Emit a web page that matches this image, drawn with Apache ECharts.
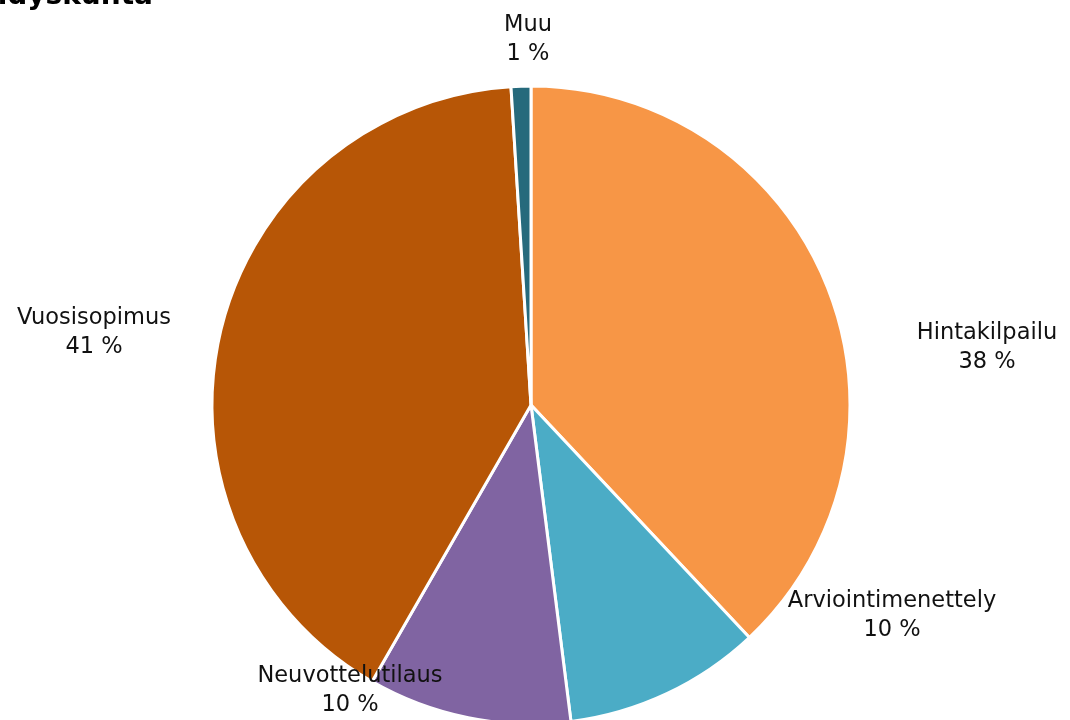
<!DOCTYPE html>
<html>
<head>
<meta charset="utf-8">
<script src="https://cdn.jsdelivr.net/npm/echarts@6/dist/echarts.min.js"></script>
<style>
  html, body { margin: 0; padding: 0; background: #ffffff; }
  #chart { width: 1070px; height: 720px; }
</style>
</head>
<body>
<div id="chart"></div>
<script>
const titleText = 'Yhdyskunta';
const categories = ['Hintakilpailu', 'Arviointimenettely', 'Neuvottelutilaus', 'Vuosisopimus', 'Muu'];
const values = [38, 10, 10.3, 40.7, 1];
const colors = ['#F79646', '#4BACC6', '#8064A2', '#B75606', '#266A7C'];

// label block centres (layout only)
const labelPos = {
  'Hintakilpailu': [987, 348],
  'Arviointimenettely': [892, 616],
  'Neuvottelutilaus': [350, 691],
  'Vuosisopimus': [94, 333],
  'Muu': [528, 40]
};

const chart = echarts.init(document.getElementById('chart'), null, { renderer: 'canvas' });
const option = {
  animation: false,
  backgroundColor: '#ffffff',
  graphic: [{
    type: 'text',
    style: {
      text: titleText,
      x: 153,
      y: 11,
      textAlign: 'right',
      textVerticalAlign: 'bottom',
      fontFamily: 'DejaVu Sans',
      fontWeight: 'bold',
      fontSize: 28,
      fill: '#000000'
    }
  }],
  series: [{
    type: 'pie',
    center: [531, 405],
    radius: 319,
    startAngle: 90,
    clockwise: true,
    avoidLabelOverlap: false,
    itemStyle: { borderColor: '#ffffff', borderWidth: 3 },
    label: {
      show: true,
      position: 'outside',
      formatter: p => p.name + '\n' + Math.round(p.value) + ' %',
      fontFamily: 'DejaVu Sans',
      fontSize: 22.5,
      lineHeight: 29,
      color: '#111111',
      align: 'center'
    },
    labelLine: { show: false },
    labelLayout: function (params) {
      const name = categories[params.dataIndex];
      const pos = labelPos[name];
      return { x: pos[0], y: pos[1], align: 'center', verticalAlign: 'middle' };
    },
    emphasis: { disabled: true },
    data: categories.map((c, i) => ({ name: c, value: values[i], itemStyle: { color: colors[i] } }))
  }]
};
chart.setOption(option);
</script>
</body>
</html>
